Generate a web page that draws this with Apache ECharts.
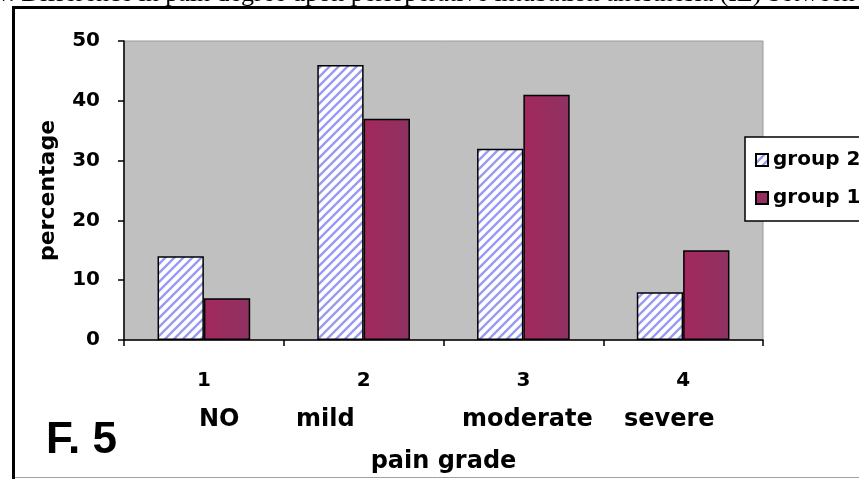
<!DOCTYPE html>
<html>
<head>
<meta charset="utf-8">
<script src="https://cdn.jsdelivr.net/npm/echarts@6/dist/echarts.min.js"></script>
<style>
  html, body { margin: 0; padding: 0; background: #ffffff; overflow: hidden; }
  #main { width: 859px; height: 479px; }
</style>
</head>
<body>
<div id="main"></div>
<script>
// chart data
var categories = ['1', '2', '3', '4'];
var painWords = ['NO', 'mild', 'moderate', 'severe'];
var seriesNames = ['group 2', 'group 1'];
var group2 = [14, 46, 32, 8];
var group1 = [7, 37, 41, 15];
var yMin = 0, yMax = 50, yStep = 10;

// white tile with blue "/" hatching for group 2
function makeHatch() {
    var c = document.createElement('canvas');
    c.width = 9;
    c.height = 9;
    var ctx = c.getContext('2d');
    ctx.fillStyle = '#ffffff';
    ctx.fillRect(0, 0, 9, 9);
    ctx.strokeStyle = '#9a9af4';
    ctx.lineWidth = 2.4;
    ctx.beginPath();
    ctx.moveTo(-2, 11); ctx.lineTo(11, -2);
    ctx.moveTo(-6.5, 6.5); ctx.lineTo(6.5, -6.5);
    ctx.moveTo(2.5, 15.5); ctx.lineTo(15.5, 2.5);
    ctx.stroke();
    return c;
}

function drawChart() {
    var myChart = echarts.init(document.getElementById('main'));
    var bold = 'DejaVu Sans';

    // word row under the category numbers (left edges)
    var wordLeft = [199, 296, 462, 624];
    var words = painWords.map(function (w, i) {
        return {
            type: 'text',
            left: wordLeft[i],
            top: 408,
            style: { text: w, font: 'bold 24px "DejaVu Sans"', fill: '#000' }
        };
    });

    var option = {
        animation: false,
        backgroundColor: '#ffffff',
        legend: {
            orient: 'vertical',
            left: 745,
            top: 137,
            data: seriesNames,
            icon: 'rect',
            itemWidth: 12,
            itemHeight: 12,
            itemGap: 18,
            padding: [13, 60, 13, 10],
            backgroundColor: '#ffffff',
            borderColor: '#000000',
            borderWidth: 1.5,
            borderRadius: 0,
            textStyle: {
                fontFamily: bold,
                fontWeight: 'bold',
                fontSize: 20,
                color: '#000'
            }
        },
        grid: {
            show: true,
            left: 124,
            right: 96,
            top: 41,
            bottom: 138,
            backgroundColor: '#c0c0c0',
            borderColor: '#9a9a9a',
            borderWidth: 1,
            containLabel: false
        },
        xAxis: {
            type: 'category',
            data: categories,
            name: 'pain grade',
            nameLocation: 'middle',
            nameGap: 110,
            nameTextStyle: {
                fontFamily: bold,
                fontWeight: 'bold',
                fontSize: 24,
                color: '#000'
            },
            axisLine: { show: true, lineStyle: { color: '#000', width: 1.5 } },
            axisTick: { show: true, length: 6, lineStyle: { color: '#000', width: 1.5 } },
            axisLabel: {
                margin: 31,
                fontFamily: bold,
                fontWeight: 'bold',
                fontSize: 20,
                color: '#000'
            },
            splitLine: { show: false }
        },
        yAxis: {
            type: 'value',
            min: yMin,
            max: yMax,
            interval: yStep,
            name: 'percentage',
            nameLocation: 'middle',
            nameGap: 65,
            nameRotate: 90,
            nameTextStyle: {
                fontFamily: bold,
                fontWeight: 'bold',
                fontSize: 22,
                color: '#000'
            },
            axisLine: { show: true, lineStyle: { color: '#000', width: 1.5 } },
            axisTick: { show: true, length: 6, lineStyle: { color: '#000', width: 1.5 } },
            axisLabel: {
                margin: 24,
                fontFamily: bold,
                fontWeight: 'bold',
                fontSize: 20,
                color: '#000'
            },
            splitLine: { show: false }
        },
        series: [
            {
                name: seriesNames[0],
                type: 'bar',
                barWidth: '29%',
                barGap: '0%',
                data: group2,
                itemStyle: {
                    color: { image: makeHatch(), repeat: 'repeat' },
                    borderColor: '#000',
                    borderWidth: 1.5
                },
                emphasis: { disabled: true }
            },
            {
                name: seriesNames[1],
                type: 'bar',
                barWidth: '29%',
                barGap: '0%',
                data: group1,
                itemStyle: {
                    color: {
                        type: 'linear', x: 0, y: 0, x2: 1, y2: 0,
                        colorStops: [
                            { offset: 0, color: '#a3285c' },
                            { offset: 1, color: '#8e3262' }
                        ]
                    },
                    borderColor: '#000',
                    borderWidth: 1.5
                },
                emphasis: { disabled: true }
            }
        ],
        graphic: [
            // clipped caption above the frame
            {
                type: 'text',
                left: -3,
                top: -19,
                style: {
                    text: 'v. Difference in pain degree upon perioperative intubation anesthesia (IL) between groups',
                    font: '26px "Liberation Serif"',
                    fill: '#000'
                },
                silent: true
            },
            // page frame
            {
                type: 'polyline',
                shape: { points: [[13.5, 480], [13.5, 7.5], [860, 7.5]] },
                style: { stroke: '#000', lineWidth: 3, fill: null },
                silent: true
            },
            {
                type: 'line',
                shape: { x1: 15, y1: 477.5, x2: 860, y2: 477.5 },
                style: { stroke: '#a0a0a0', lineWidth: 1 },
                silent: true
            },
            {
                type: 'text',
                left: 46,
                top: 419,
                style: { text: 'F. 5', font: 'bold 44px "Liberation Sans"', fill: '#000' },
                silent: true
            }
        ].concat(words)
    };

    myChart.setOption(option);
}

drawChart();
</script>
</body>
</html>
